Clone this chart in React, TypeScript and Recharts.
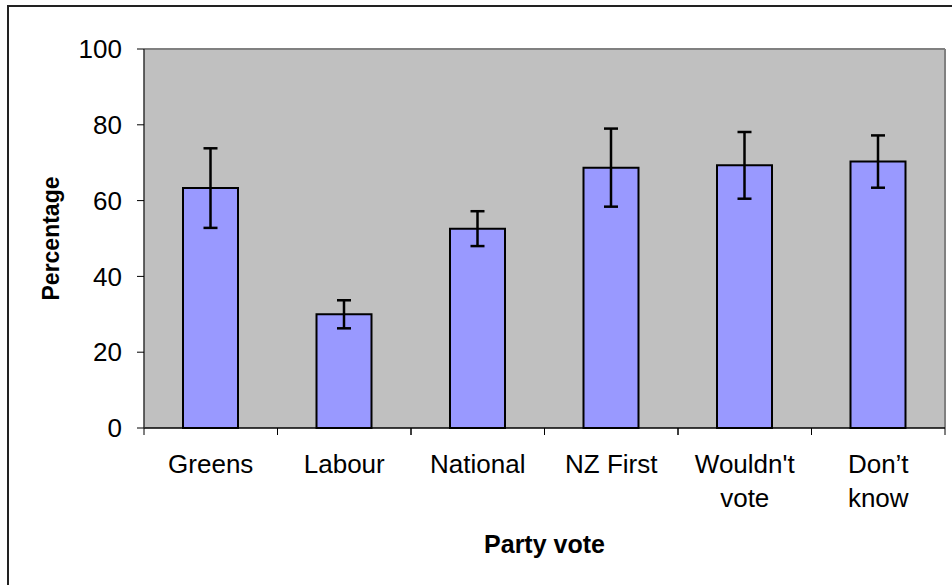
import { Bar, BarChart, CartesianGrid, ErrorBar, XAxis, YAxis } from "recharts";

// party vote categories ("\n" marks where Excel wrapped the label)
const CATEGORIES = ["Greens", "Labour", "National", "NZ First", "Wouldn't\nvote", "Don’t\nknow"];
const PERCENTAGES = [63.3, 30.0, 52.6, 68.7, 69.3, 70.3];
const ERRORS = [10.5, 3.7, 4.6, 10.3, 8.8, 6.9];
const Y_TICKS = [0, 20, 40, 60, 80, 100];

const FONT = '"Liberation Sans", Arial, sans-serif';
const BAR_FILL = "#9999FF";
const PLOT_BG = "#C0C0C0";
const PLOT_EDGE = "#808080";

const data = CATEGORIES.map((name, i) => ({
  name,
  value: PERCENTAGES[i],
  err: ERRORS[i],
}));

function CategoryTick(props: any) {
  const { x, y, payload } = props;
  const half = payload.offset ?? 0;
  const lines = String(payload.value).split("\n");
  return (
    <g>
      <line x1={x - half} y1={y} x2={x - half} y2={y + 7} stroke="#000" strokeWidth={1} />
      <line x1={x + half} y1={y} x2={x + half} y2={y + 7} stroke="#000" strokeWidth={1} />
      <text x={x} y={y + 45} textAnchor="middle" fontFamily={FONT} fontSize={26} fill="#000">
        {lines.map((l, i) => (
          <tspan key={i} x={x} dy={i === 0 ? 0 : 34}>
            {l}
          </tspan>
        ))}
      </text>
    </g>
  );
}

export default function App() {
  return (
    <div style={{ position: "relative", width: 952, height: 585, overflow: "hidden", background: "#fff" }}>
      <style>{"body{margin:0}"}</style>
      <div
        style={{
          position: "absolute",
          left: 7,
          top: 5,
          width: 1000,
          height: 700,
          borderLeft: "2px solid #222",
          borderTop: "2px solid #222",
        }}
      />
      <div style={{ position: "absolute", left: 0, top: 0 }}>
        <BarChart
          width={952}
          height={585}
          data={data}
          margin={{ top: 49, right: 7, bottom: 0, left: 0 }}
        >
          <CartesianGrid
            fill={PLOT_BG}
            fillOpacity={1}
            stroke={PLOT_EDGE}
            strokeWidth={2}
            horizontalCoordinatesGenerator={({ offset }: any) => [offset.top]}
            verticalCoordinatesGenerator={({ offset }: any) => [offset.left + offset.width]}
          />
          <XAxis
            dataKey="name"
            height={157}
            axisLine={{ stroke: "#000", strokeWidth: 1.5 }}
            tickLine={false}
            tickSize={0}
            tickMargin={0}
            interval={0}
            tick={<CategoryTick />}
            label={({ viewBox }: any) => (
              <text
                x={viewBox.x + viewBox.width / 2}
                y={viewBox.y + 125}
                textAnchor="middle"
                fontFamily={FONT}
                fontSize={25}
                fontWeight="bold"
                fill="#000"
              >
                Party vote
              </text>
            )}
          />
          <YAxis
            width={144}
            domain={[0, 100]}
            ticks={Y_TICKS}
            interval={0}
            axisLine={{ stroke: "#333", strokeWidth: 1.5 }}
            tickLine={{ stroke: "#000" }}
            tickSize={7}
            tickMargin={15}
            tick={{ fontFamily: FONT, fontSize: 26, fill: "#000" }}
            label={({ viewBox }: any) => (
              <text
                x={viewBox.x + 51}
                y={viewBox.y + viewBox.height / 2}
                transform={`rotate(-90 ${viewBox.x + 51} ${viewBox.y + viewBox.height / 2})`}
                textAnchor="middle"
                dominantBaseline="central"
                fontFamily={FONT}
                fontSize={23}
                fontWeight="bold"
                fill="#000"
              >
                Percentage
              </text>
            )}
          />
          <Bar
            dataKey="value"
            fill={BAR_FILL}
            stroke="#000"
            strokeWidth={2}
            barSize={55}
            isAnimationActive={false}
          >
            <ErrorBar dataKey="err" width={7} stroke="#000" strokeWidth={2.5} isAnimationActive={false} />
          </Bar>
        </BarChart>
      </div>
    </div>
  );
}
